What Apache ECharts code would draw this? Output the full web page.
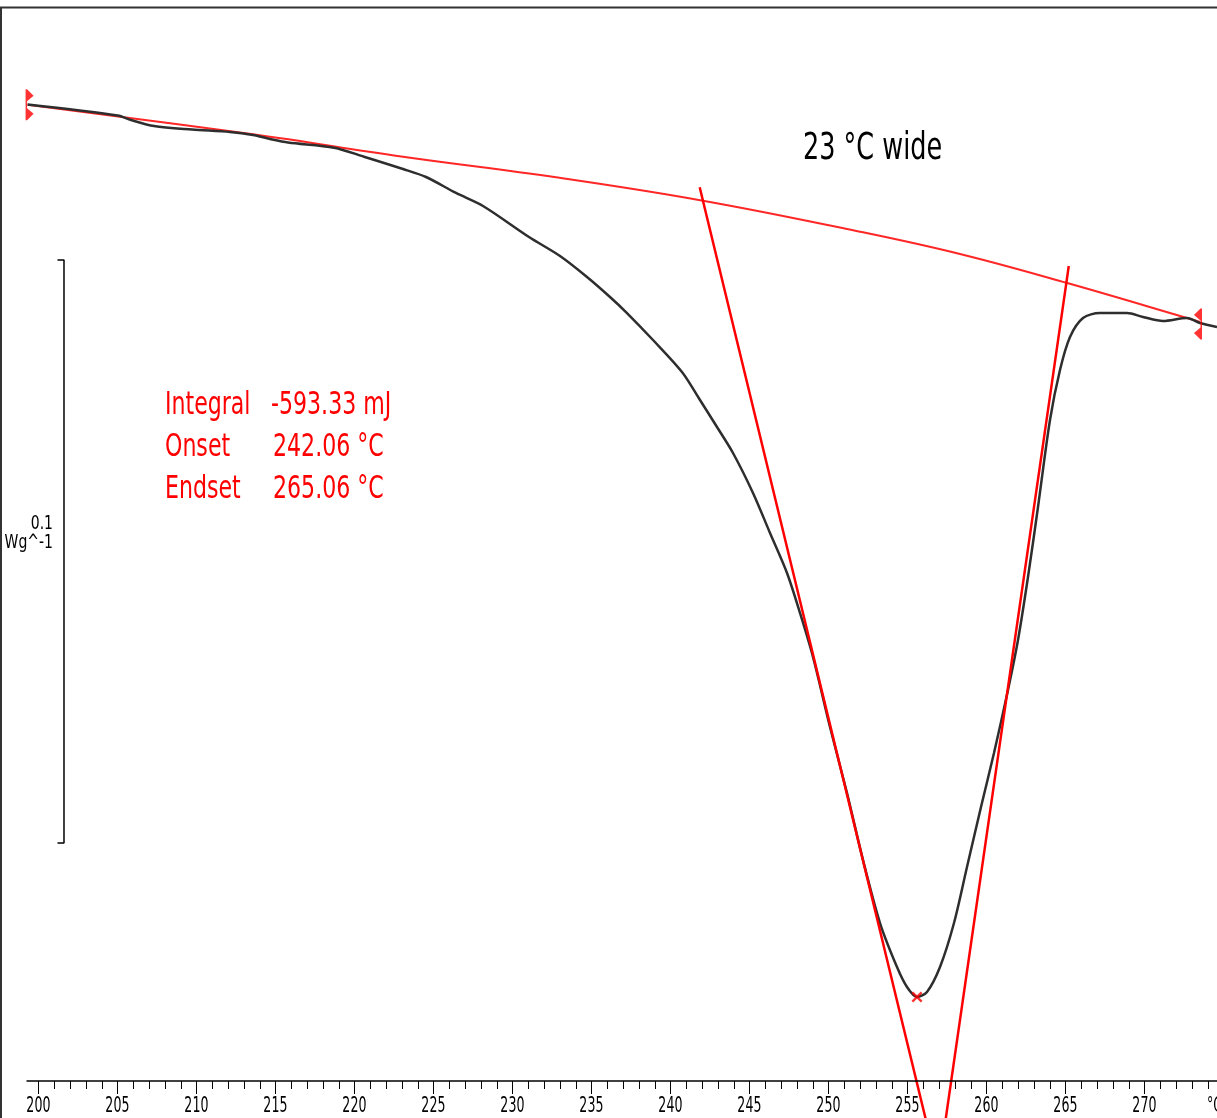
<!DOCTYPE html>
<html>
<head>
<meta charset="utf-8">
<script src="https://cdn.jsdelivr.net/npm/echarts@6/dist/echarts.min.js"></script>
<style>
html, body { margin: 0; padding: 0; background: #fff; }
#chart { width: 1217px; height: 1118px; }
</style>
</head>
<body>
<div id="chart"></div>
<script>
// DSC melting endotherm: heat flow (W/g) against temperature (°C)
const temperature = [
  199.316, 205.013, 205.861, 207.316, 209.722, 212.127, 213.582, 214.658, 215.797, 218.709,
  220.608, 223.076, 224.532, 226.430, 228.139, 231.051, 233.013, 234.722, 236.177, 237.253,
  238.899, 240.734, 241.873, 242.949, 243.962, 245.228, 246.304, 247.380, 248.203, 249.025,
  250.101, 251.177, 252.190, 253.266, 254.342, 254.975, 255.608, 256.241, 257.063, 257.949,
  258.772, 259.658, 260.481, 261.367, 262.000, 262.633, 263.266, 264.025, 264.658, 265.291,
  266.114, 267.190, 268.899, 269.911, 271.177, 272.696, 273.519, 274.595
];
const heatFlow = [
  -0.01672, -0.01861, -0.01938, -0.02041, -0.02101, -0.02144, -0.02196, -0.02264, -0.02324, -0.02413,
  -0.02568, -0.02779, -0.02916, -0.03190, -0.03413, -0.03945, -0.04271, -0.04631, -0.04974, -0.05249,
  -0.05712, -0.06261, -0.06741, -0.07204, -0.07650, -0.08336, -0.09022, -0.09708, -0.10395, -0.11149,
  -0.12350, -0.13482, -0.14631, -0.15712, -0.16467, -0.16810, -0.16981, -0.16895, -0.16467, -0.15712,
  -0.14751, -0.13722, -0.12796, -0.11715, -0.10858, -0.09777, -0.08576, -0.07084, -0.06226, -0.05660,
  -0.05335, -0.05249, -0.05249, -0.05317, -0.05386, -0.05335, -0.05420, -0.05489
];

// integration baseline (start and end limits carry the bracket markers)
const baselineT  = [199.316, 213.582, 223.076, 232.759, 242.06, 252.00, 258.329, 265.06, 272.696, 273.519];
const baselineHF = [-0.01676, -0.02184, -0.02568, -0.02921, -0.03322, -0.03854, -0.04237, -0.04731, -0.05335, -0.05403];

// evaluation results
const integralMJ = -593.33;
const onsetT = 242.06;
const endsetT = 265.06;
const peakT = 255.608;
const peakHF = -0.16981;

// inflection tangents, each passing through its baseline intersection
const onsetTangentT  = [241.855, onsetT, 256.25];
const onsetTangentHF = [-0.03093, -0.03322, -0.19177];
const endsetTangentT  = [265.213, endsetT, 257.369];
const endsetTangentHF = [-0.04443, -0.04731, -0.19177];

// temperature axis ticks
const majorTicks = [200, 205, 210, 215, 220, 225, 230, 235, 240, 245, 250, 255, 260, 265, 270];
const minorTicks = [];
for (let t = 200; t <= 274; t++) minorTicks.push(t);
const axisUnit = '\u00B0C';

// heat-flow scale bar
const scaleBarStep = 0.1;
const scaleBarUnit = 'Wg^-1';
const scaleBarTop = -0.04340;
const scaleBarX = [201.209, 201.620];

const zip = (xs, ys) => xs.map((x, i) => [x, ys[i]]);

const X_MIN = 199.247, X_MAX = 274.595;
const Y_MIN = -0.18422, Y_MAX = 0;

const textFont = '"DejaVu Sans", "Noto Sans", sans-serif';
function label(x, y, text, size, color, align, sx) {
  return {
    type: 'text', x: x, y: y, scaleX: sx, scaleY: 1, silent: true, z: 10,
    style: {
      text: text, fill: color, font: size + 'px ' + textFont,
      align: align, textAlign: align, verticalAlign: 'middle', textVerticalAlign: 'middle'
    }
  };
}

const bracketLeft  = 'path://M0,0 L1.5,0 L8,6.5 L1.5,12 L1.5,19 L8,24.5 L1.5,31 L0,31 Z';
const bracketRight = 'path://M8,0 L6.5,0 L0,6.5 L6.5,12 L6.5,19 L0,24.5 L6.5,31 L8,31 Z';
const crossPath = 'path://M0,1.5 L1.5,0 L5,3.5 L8.5,0 L10,1.5 L6.5,5 L10,8.5 L8.5,10 L5,6.5 L1.5,10 L0,8.5 L3.5,5 Z';

const chart = echarts.init(document.getElementById('chart'), null, { renderer: 'canvas' });

const frameAndText = [
  { type: 'line', silent: true, shape: { x1: 0, y1: 7.5, x2: 1217, y2: 7.5 }, style: { stroke: '#333', lineWidth: 2 } },
  { type: 'line', silent: true, shape: { x1: 1, y1: 7, x2: 1, y2: 1118 }, style: { stroke: '#333', lineWidth: 2 } },
  label(803, 149, (endsetT - onsetT).toFixed(0) + ' \u00B0C wide', 37, '#000', 'left', 0.69),
  label(165, 406, 'Integral', 32, '#ff0000', 'left', 0.69),
  label(271, 406, integralMJ.toFixed(2) + ' mJ', 32, '#ff0000', 'left', 0.69),
  label(165, 448, 'Onset', 32, '#ff0000', 'left', 0.69),
  label(273, 448, onsetT.toFixed(2) + ' \u00B0C', 32, '#ff0000', 'left', 0.69),
  label(165, 490, 'Endset', 32, '#ff0000', 'left', 0.69),
  label(273, 490, endsetT.toFixed(2) + ' \u00B0C', 32, '#ff0000', 'left', 0.69),
  label(53, 524, String(scaleBarStep), 20, '#000', 'right', 0.7),
  label(53, 543, scaleBarUnit, 20, '#000', 'right', 0.7)
];

chart.setOption({
  animation: false,
  backgroundColor: '#ffffff',
  grid: { left: 26.5, right: 0, top: 7, bottom: 37, outerBoundsMode: 'none', containLabel: false, show: false },
  xAxis: {
    type: 'value', min: X_MIN, max: X_MAX, show: false,
    splitLine: { show: false }, axisLine: { show: false }, axisTick: { show: false }, axisLabel: { show: false }
  },
  yAxis: {
    type: 'value', min: Y_MIN, max: Y_MAX, show: false,
    splitLine: { show: false }, axisLine: { show: false }, axisTick: { show: false }, axisLabel: { show: false }
  },
  series: [
    {
      // temperature ticks hanging below the axis line, long ones every 5 °C
      name: 'ticks', type: 'custom', clip: false, silent: true, z: 1,
      data: minorTicks.map(v => [v, Y_MIN]),
      renderItem: function (params, api) {
        const v = api.value(0);
        const p = api.coord([v, api.value(1)]);
        const len = majorTicks.indexOf(v) >= 0 ? 13 : 8;
        const x = Math.round(p[0]) + 0.5;
        return {
          type: 'line',
          shape: { x1: x, y1: p[1], x2: x, y2: p[1] + len },
          style: { stroke: '#000', lineWidth: 1 }
        };
      }
    },
    {
      name: 'baseline', type: 'line', data: zip(baselineT, baselineHF),
      smooth: 0.4, symbol: 'none', z: 2,
      lineStyle: { color: '#ff2626', width: 2 }
    },
    {
      name: 'heat flow', type: 'line', data: zip(temperature, heatFlow),
      smooth: 0.3, symbol: 'none', z: 3,
      lineStyle: { color: '#2e2e2e', width: 2.5 }
    },
    {
      name: 'onset tangent', type: 'line', data: zip(onsetTangentT, onsetTangentHF),
      symbol: 'none', clip: false, z: 4,
      lineStyle: { color: '#ff0000', width: 2.5 }
    },
    {
      name: 'endset tangent', type: 'line', data: zip(endsetTangentT, endsetTangentHF),
      symbol: 'none', clip: false, z: 4,
      lineStyle: { color: '#ff0000', width: 2.5 }
    },
    {
      name: 'limits', type: 'scatter', z: 5, clip: false,
      data: [
        { value: [baselineT[0], baselineHF[0]], symbol: bracketLeft, symbolOffset: [2, 0] },
        { value: [baselineT[baselineT.length - 1], baselineHF[baselineHF.length - 1]], symbol: bracketRight, symbolOffset: [-2, 2] }
      ],
      symbolSize: [8, 31],
      itemStyle: { color: '#ff0000' }
    },
    {
      name: 'peak', type: 'scatter', z: 6,
      data: [[peakT, peakHF]],
      symbol: crossPath, symbolSize: 11,
      itemStyle: { color: '#ff0000' }
    },
    {
      name: 'scale bar', type: 'line', z: 3, symbol: 'none',
      data: [
        [scaleBarX[0], scaleBarTop],
        [scaleBarX[1], scaleBarTop],
        [scaleBarX[1], scaleBarTop - scaleBarStep],
        [scaleBarX[0], scaleBarTop - scaleBarStep]
      ],
      lineStyle: { color: '#000', width: 1.5 }
    }
  ],
  graphic: frameAndText
});

// axis line and tick labels, placed through the temperature axis scale
const axisY = chart.convertToPixel({ yAxisIndex: 0 }, Y_MIN);
const axisX0 = chart.convertToPixel({ xAxisIndex: 0 }, X_MIN);
const axisX1 = chart.convertToPixel({ xAxisIndex: 0 }, X_MAX);
const axisParts = [
  { type: 'line', silent: true, z: 9, shape: { x1: axisX0, y1: axisY, x2: axisX1, y2: axisY }, style: { stroke: '#000', lineWidth: 1.5 } }
];
majorTicks.forEach(v =>
  axisParts.push(label(chart.convertToPixel({ xAxisIndex: 0 }, v), axisY + 26, String(v), 21, '#000', 'center', 0.6))
);
axisParts.push(label(1207, axisY + 26, axisUnit, 21, '#000', 'left', 0.6));
chart.setOption({ graphic: frameAndText.concat(axisParts) });
</script>
</body>
</html>
